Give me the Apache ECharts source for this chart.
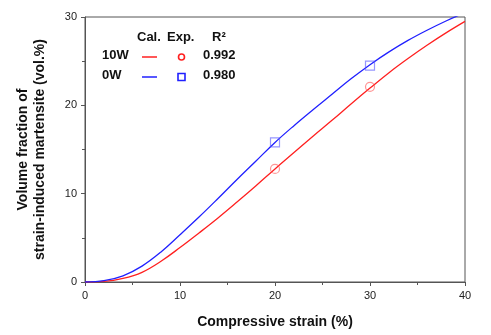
<!DOCTYPE html>
<html>
<head>
<meta charset="utf-8">
<script src="https://cdn.jsdelivr.net/npm/echarts@6/dist/echarts.min.js"></script>
<style>
  html, body { margin: 0; padding: 0; background: #fff; }
  #chart { width: 491px; height: 335px; }
</style>
</head>
<body>
<div id="chart"></div>
<script>
// Compressive strain (%) sampled along the fitted curves
const strain = [0, 2, 4, 6, 8, 10, 12, 14, 16, 18, 20, 22, 24, 26, 28, 30, 32, 34, 36, 38, 40];
// Calculated volume fraction of martensite (vol.%)
const cal10W = [0, 0.06, 0.4, 1.1, 2.35, 3.9, 5.55, 7.25, 9.05, 10.9, 12.8, 14.65, 16.5, 18.3, 20.15, 21.95, 23.7, 25.3, 26.8, 28.2, 29.5];
const cal0W = [0, 0.15, 0.7, 1.8, 3.4, 5.35, 7.35, 9.45, 11.6, 13.7, 15.8, 17.7, 19.5, 21.25, 23.0, 24.6, 26.05, 27.35, 28.5, 29.55, 30.5];
// Experimental measurements
const expStrain = [20, 30];
const exp10W = [12.8, 22.1];
const exp0W = [15.8, 24.5];
// Coefficients of determination
const r2 = { '10W': '0.992', '0W': '0.980' };
const yTicks = [0, 10, 20, 30];
const xTicks = [0, 10, 20, 30, 40];

const RED = '#ff2020';
const BLUE = '#2020ff';
const FONT = '"Liberation Sans", Arial, sans-serif';

const chart = echarts.init(document.getElementById('chart'));

const axisCommon = {
  axisLine: { show: true, onZero: false, lineStyle: { color: '#555', width: 1 } },
  axisTick: { show: true, inside: false, length: 4, lineStyle: { color: '#555' } },
  minorTick: { show: true, splitNumber: 2, length: 3, lineStyle: { color: '#555' } },
  splitLine: { show: false },
  axisLabel: { color: '#222', fontSize: 11, fontFamily: FONT }
};

const legendY1 = 57, legendY2 = 77;
chart.setOption({
  animation: false,
  grid: { left: 85, right: 26, top: 17, bottom: 53, show: true, borderColor: '#555', borderWidth: 1 },
  xAxis: Object.assign({
    type: 'value', min: xTicks[0], max: xTicks[xTicks.length - 1], interval: 10,
    name: 'Compressive strain (%)', nameLocation: 'middle', nameGap: 33,
    nameTextStyle: { fontSize: 14, fontWeight: 'bold', color: '#111', fontFamily: FONT }
  }, axisCommon),
  yAxis: Object.assign({
    type: 'value', min: yTicks[0], max: yTicks[yTicks.length - 1], interval: 10,
    name: 'Volume fraction of\nstrain-induced martensite (vol.%)', nameLocation: 'middle', nameGap: 36,
    nameTextStyle: { fontSize: 14, fontWeight: 'bold', color: '#111', fontFamily: FONT, lineHeight: 17 }
  }, axisCommon),
  series: [
    { name: '10W Cal.', type: 'line', data: strain.map((x, i) => [x, cal10W[i]]), smooth: 0.4,
      showSymbol: false, lineStyle: { color: RED, width: 1.3 }, clip: true, z: 2 },
    { name: '0W Cal.', type: 'line', data: strain.map((x, i) => [x, cal0W[i]]), smooth: 0.4,
      showSymbol: false, lineStyle: { color: BLUE, width: 1.3 }, clip: true, z: 2 },
    { name: '10W Exp.', type: 'scatter', data: expStrain.map((x, i) => [x, exp10W[i]]),
      symbol: 'circle', symbolSize: 9,
      itemStyle: { color: 'rgba(0,0,0,0)', borderColor: 'rgba(255,80,80,0.75)', borderWidth: 1.2 }, z: 3 },
    { name: '0W Exp.', type: 'scatter', data: expStrain.map((x, i) => [x, exp0W[i]]),
      symbol: 'rect', symbolSize: 9,
      itemStyle: { color: 'rgba(0,0,0,0)', borderColor: 'rgba(80,80,255,0.75)', borderWidth: 1.2 }, z: 3 }
  ],
  graphic: [
    { type: 'text', left: 137, top: 31, style: { text: 'Cal.', font: 'bold 13px ' + FONT, fill: '#111' } },
    { type: 'text', left: 167, top: 31, style: { text: 'Exp.', font: 'bold 13px ' + FONT, fill: '#111' } },
    { type: 'text', left: 212, top: 31, style: { text: 'R²', font: 'bold 13px ' + FONT, fill: '#111' } },
    { type: 'text', left: 102, top: legendY1 - 8, style: { text: '10W', font: 'bold 13px ' + FONT, fill: '#111' } },
    { type: 'text', left: 102, top: legendY2 - 8, style: { text: '0W', font: 'bold 13px ' + FONT, fill: '#111' } },
    { type: 'line', shape: { x1: 142, y1: legendY1, x2: 157, y2: legendY1 }, style: { stroke: RED, lineWidth: 1.5 } },
    { type: 'line', shape: { x1: 142, y1: legendY2, x2: 157, y2: legendY2 }, style: { stroke: BLUE, lineWidth: 1.5 } },
    { type: 'circle', shape: { cx: 181.5, cy: legendY1, r: 3 }, style: { fill: 'none', stroke: RED, lineWidth: 1.6 } },
    { type: 'rect', shape: { x: 178, y: legendY2 - 3.5, width: 7, height: 7 }, style: { fill: 'none', stroke: BLUE, lineWidth: 1.6 } },
    { type: 'text', left: 203, top: legendY1 - 8, style: { text: r2['10W'], font: 'bold 13px ' + FONT, fill: '#111' } },
    { type: 'text', left: 203, top: legendY2 - 8, style: { text: r2['0W'], font: 'bold 13px ' + FONT, fill: '#111' } }
  ]
});
</script>
</body>
</html>
